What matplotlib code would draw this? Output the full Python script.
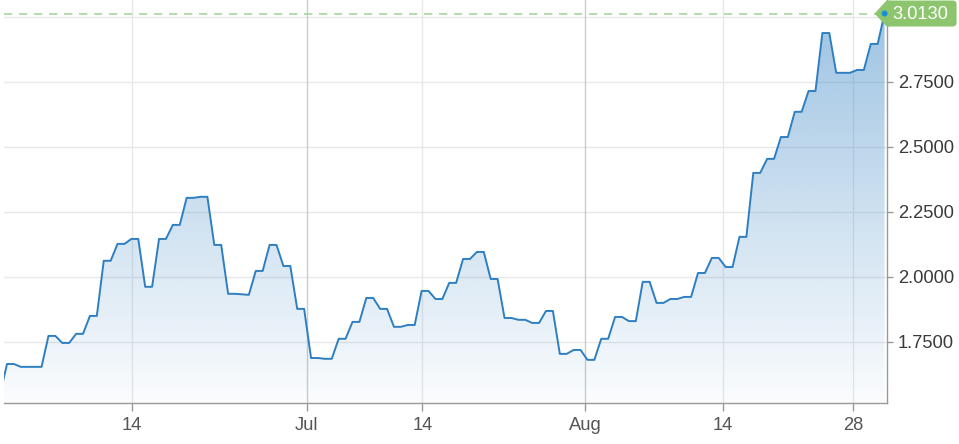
import numpy as np
import matplotlib
matplotlib.use('Agg')
import matplotlib.pyplot as plt
from matplotlib.patches import Polygon, FancyBboxPatch, Circle
from matplotlib.colors import to_rgb
from matplotlib.transforms import IdentityTransform

# ---- data (two samples per trading day) ----
june = [1.55, 1.665, 1.665, 1.654, 1.654, 1.654, 1.654, 1.773, 1.773, 1.746,
        1.746, 1.781, 1.781, 1.85, 1.85, 2.062, 2.062, 2.127, 2.127, 2.146,
        2.146, 1.962, 1.962, 2.146, 2.146, 2.2, 2.2, 2.304, 2.304, 2.308,
        2.308, 2.123, 2.123, 1.935, 1.935, 1.933, 1.931, 2.023, 2.023, 2.123,
        2.123, 2.042, 2.042, 1.877, 1.877]
july = [1.688, 1.688, 1.685, 1.685, 1.762, 1.762, 1.827, 1.827, 1.919, 1.919,
        1.877, 1.877, 1.808, 1.808, 1.815, 1.815, 1.946, 1.946, 1.915, 1.915,
        1.977, 1.977, 2.069, 2.069, 2.096, 2.096, 1.992, 1.992, 1.842, 1.842,
        1.835, 1.835, 1.823, 1.823, 1.869, 1.869, 1.704, 1.704, 1.719, 1.719]
august = [1.681, 1.681, 1.762, 1.762, 1.846, 1.846, 1.83, 1.83, 1.981, 1.981,
          1.9, 1.9, 1.915, 1.915, 1.923, 1.923, 2.015, 2.015, 2.073, 2.073,
          2.038, 2.038, 2.154, 2.154, 2.4, 2.4, 2.454, 2.454, 2.538, 2.538,
          2.635, 2.635, 2.715, 2.715, 2.938, 2.938, 2.785, 2.785, 2.785, 2.796,
          2.796, 2.896, 2.896, 3.013]

tick_pos = [19.1, 44.4, 61.1, 84.7, 104.6, 123.4]
tick_labels = ['14', 'Jul', '14', 'Aug', '14', '28']
y_ticks = [1.75, 2.0, 2.25, 2.5, 2.75, 3.0]
last_label = '3.0130'

values = june + july + august

plt.rcParams['font.family'] = ['Liberation Sans', 'DejaVu Sans']

fig = plt.figure(figsize=(9.59, 4.44), dpi=100)
fig.patch.set_facecolor('white')
ax = fig.add_axes([4 / 959, 41 / 444, 883 / 959, 403 / 444])

x = np.arange(len(values))
y = np.array(values)
ylo, yhi = 1.515, 3.065
line_color = '#2e7fc2'

# gradient area fill
rgb = to_rgb(line_color)
n = 256
grad = np.zeros((n, 1, 4))
grad[..., :3] = rgb
grad[:, 0, 3] = np.linspace(0.02, 0.48, n)
im = ax.imshow(grad, extent=[x[0], x[-1], ylo, yhi], origin='lower',
               aspect='auto', zorder=1, interpolation='bilinear')
verts = np.vstack([np.column_stack([x, y]), [[x[-1], ylo], [x[0], ylo]]])
poly = Polygon(verts, closed=True, facecolor='none', edgecolor='none')
ax.add_patch(poly)
im.set_clip_path(poly)

ax.plot(x, y, color=line_color, lw=1.4, zorder=3)

ax.set_xlim(0.566, 128.35)
ax.set_ylim(ylo, yhi)

# grid
for yt in y_ticks:
    ax.axhline(yt, color='#e8e8e8', lw=1, zorder=0)
for pos, lab in zip(tick_pos, tick_labels):
    ax.axvline(pos, color='#cccccc' if lab.isalpha() else '#e8e8e8', lw=1, zorder=0)

# last-value dashed line
ax.axhline(y[-1], color='#a8d69c', lw=1.2, ls=(0, (5, 4)), zorder=2)

# axes styling
ax.set_xticks(tick_pos, tick_labels)
ax.tick_params(axis='x', length=6, width=1, color='#999999', labelcolor='#555555',
               labelsize=13.2, pad=4)
ax.yaxis.tick_right()
ax.set_yticks(y_ticks, ['' if t == 3.0 else f'{t:.4f}' for t in y_ticks])
ax.tick_params(axis='y', length=4, width=1, color='#999999', labelcolor='#3a3a3a',
               labelsize=13.2, pad=4)
for s in ['left', 'top']:
    ax.spines[s].set_visible(False)
for s in ['bottom', 'right']:
    ax.spines[s].set_color('#999999')
    ax.spines[s].set_linewidth(1)

# last value label
fig.canvas.draw()
px, py = ax.transData.transform((x[-1], y[-1]))
green = '#8cc56e'
ident = IdentityTransform()
arrow = Polygon([[px - 10, py], [px + 2, py + 13], [px + 6, py + 13],
                 [px + 6, py - 13], [px + 2, py - 13]], closed=True,
                facecolor=green, edgecolor='none', transform=ident,
                clip_on=False, zorder=8)
ax.add_artist(arrow)
box = FancyBboxPatch((px + 2, py - 13), 70, 26,
                     boxstyle='round,pad=0,rounding_size=4',
                     facecolor=green, edgecolor='none', transform=ident,
                     clip_on=False, zorder=8)
ax.add_artist(box)
ax.text(px + 8, py - 0.5, last_label, transform=ident, ha='left', va='center',
        color='white', fontsize=13.2, zorder=9, clip_on=False)
dot = Circle((px, py), 3.0, facecolor='#1a8fd8', edgecolor='none',
             transform=ident, clip_on=False, zorder=10)
ax.add_artist(dot)

fig.savefig('out.png', dpi=100, facecolor='white')
